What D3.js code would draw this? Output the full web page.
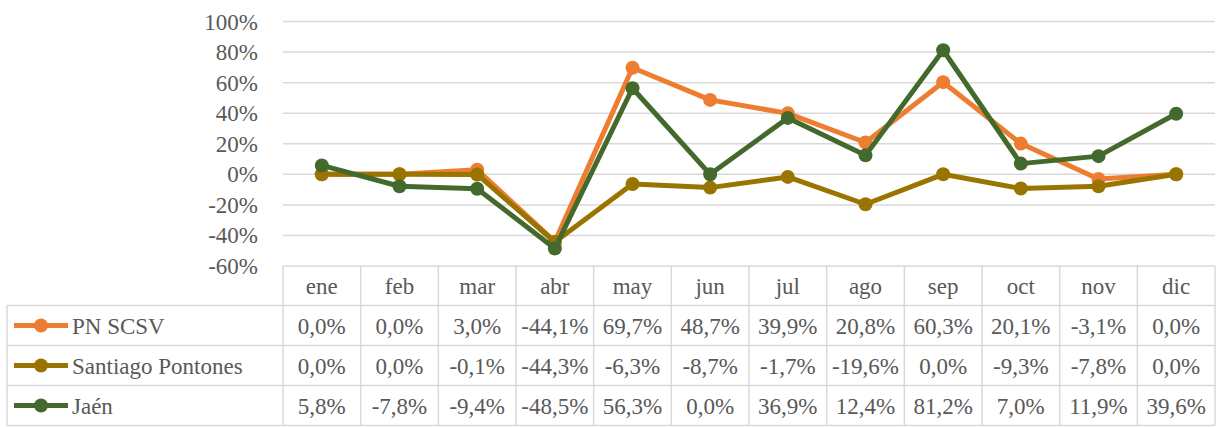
<!DOCTYPE html>
<html>
<head>
<meta charset="utf-8">
<script src="https://cdn.jsdelivr.net/npm/d3@7"></script>
<style>
  body { margin: 0; background: #fff; }
</style>
</head>
<body>
<svg id="chart" width="1223" height="427" font-family="Liberation Serif, Times New Roman, DejaVu Serif, serif"></svg>
<script>
const months = ['ene', 'feb', 'mar', 'abr', 'may', 'jun', 'jul', 'ago', 'sep', 'oct', 'nov', 'dic'];
const seriesNames = ['PN SCSV', 'Santiago Pontones', 'Jaén'];
const pnScsv = [0.0, 0.0, 3.0, -44.1, 69.7, 48.7, 39.9, 20.8, 60.3, 20.1, -3.1, 0.0];
const santiagoPontones = [0.0, 0.0, -0.1, -44.3, -6.3, -8.7, -1.7, -19.6, 0.0, -9.3, -7.8, 0.0];
const jaen = [5.8, -7.8, -9.4, -48.5, 56.3, 0.0, 36.9, 12.4, 81.2, 7.0, 11.9, 39.6];
const yTicks = [-60, -40, -20, 0, 20, 40, 60, 80, 100];
const colors = ['#ED7D31', '#9A7400', '#436A2C'];

const series = [pnScsv, santiagoPontones, jaen].map((v, i) => ({ name: seriesNames[i], values: v, color: colors[i] }));

const cfg = { left: 283, right: 1215, top: 21.5, plotBottom: 266, rowH: [39.5, 40, 40, 40], legendLeft: 7, fontSize: 23 };
const grid = '#D9D9D9';
const textColor = '#595959';

const svg = d3.select('#chart');
const x = d3.scaleBand().domain(months).range([cfg.left, cfg.right]);
const y = d3.scaleLinear().domain([-60, 100]).range([cfg.plotBottom, cfg.top]);

// gridlines
svg.append('g')
  .selectAll('line')
  .data(yTicks.filter(d => d !== -60))
  .join('line')
    .attr('x1', cfg.left).attr('x2', cfg.right)
    .attr('y1', d => y(d)).attr('y2', d => y(d))
    .attr('stroke', grid).attr('stroke-width', 1.5);

// y axis labels
svg.append('g')
  .selectAll('text')
  .data(yTicks)
  .join('text')
    .attr('x', 258)
    .attr('y', d => y(d))
    .attr('dy', '0.35em')
    .attr('text-anchor', 'end')
    .attr('fill', textColor)
    .attr('font-size', cfg.fontSize)
    .text(d => d + '%');

// table
const rowY = [cfg.plotBottom];
cfg.rowH.forEach(h => rowY.push(rowY[rowY.length - 1] + h));
const table = svg.append('g');

rowY.forEach((yy, i) => {
  table.append('line')
    .attr('x1', i === 0 ? cfg.left : cfg.legendLeft).attr('x2', cfg.right)
    .attr('y1', yy).attr('y2', yy)
    .attr('stroke', grid).attr('stroke-width', 1.5);
});
const colEdges = months.map(m => x(m)).concat([cfg.right]);
colEdges.forEach(xx => {
  table.append('line')
    .attr('x1', xx).attr('x2', xx)
    .attr('y1', rowY[0]).attr('y2', rowY[4])
    .attr('stroke', grid).attr('stroke-width', 1.5);
});
table.append('line')
  .attr('x1', cfg.legendLeft).attr('x2', cfg.legendLeft)
  .attr('y1', rowY[1]).attr('y2', rowY[4])
  .attr('stroke', grid).attr('stroke-width', 1.5);

table.selectAll('.hdr')
  .data(months)
  .join('text')
    .attr('class', 'hdr')
    .attr('x', d => x(d) + x.bandwidth() / 2)
    .attr('y', (rowY[0] + rowY[1]) / 2)
    .attr('dy', '0.35em')
    .attr('text-anchor', 'middle')
    .attr('fill', textColor)
    .attr('font-size', cfg.fontSize)
    .text(d => d);

const fmt = v => v.toFixed(1).replace('.', ',') + '%';

series.forEach((s, i) => {
  const cy = (rowY[i + 1] + rowY[i + 2]) / 2;
  table.append('line')
    .attr('x1', 14).attr('x2', 68)
    .attr('y1', cy).attr('y2', cy)
    .attr('stroke', s.color).attr('stroke-width', 5);
  table.append('circle')
    .attr('cx', 41).attr('cy', cy).attr('r', 7)
    .attr('fill', s.color);
  table.append('text')
    .attr('x', 72).attr('y', cy).attr('dy', '0.35em')
    .attr('fill', textColor)
    .attr('font-size', cfg.fontSize)
    .text(s.name);
  table.selectAll('.v' + i)
    .data(s.values)
    .join('text')
      .attr('x', (d, j) => x(months[j]) + x.bandwidth() / 2)
      .attr('y', cy)
      .attr('dy', '0.35em')
      .attr('text-anchor', 'middle')
      .attr('fill', textColor)
      .attr('font-size', cfg.fontSize)
      .text(d => fmt(d));
});

// lines
const line = d3.line()
  .x((d, j) => x(months[j]) + x.bandwidth() / 2)
  .y(d => y(d));

series.forEach(s => {
  const g = svg.append('g');
  g.append('path')
    .datum(s.values)
    .attr('d', line)
    .attr('fill', 'none')
    .attr('stroke', s.color)
    .attr('stroke-width', 5)
    .attr('stroke-linejoin', 'round');
  g.selectAll('circle')
    .data(s.values)
    .join('circle')
      .attr('cx', (d, j) => x(months[j]) + x.bandwidth() / 2)
      .attr('cy', d => y(d))
      .attr('r', 7)
      .attr('fill', s.color);
});
</script>
</body>
</html>
